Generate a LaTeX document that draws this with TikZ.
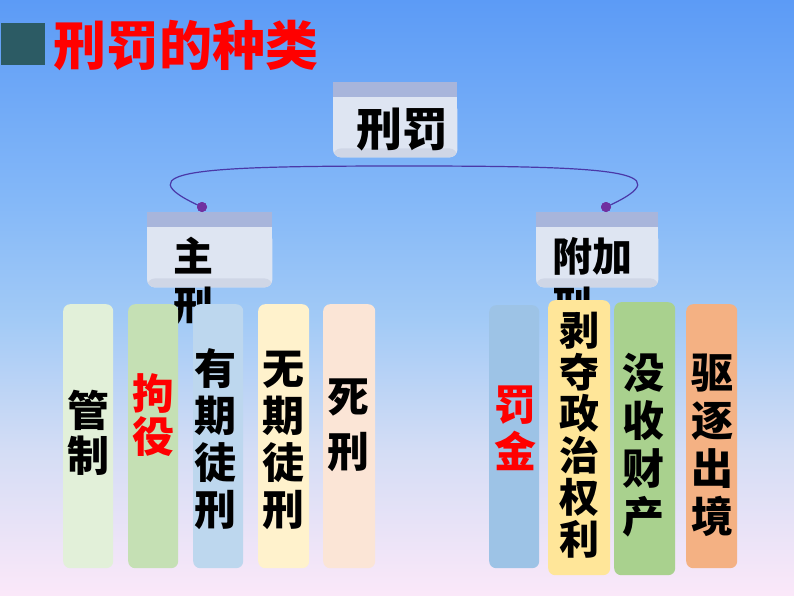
\documentclass[tikz,border=0pt]{standalone}
\usepackage{fontspec}
\newfontfamily\cjk{Noto Sans CJK SC}
\definecolor{bgtop}{HTML}{5C9BF6}
\definecolor{bgb}{HTML}{84B8F8}
\definecolor{bgc}{HTML}{A2CAF6}
\definecolor{bgd}{HTML}{D4DDF5}
\definecolor{bgbot}{HTML}{FBE8F9}
\definecolor{sqcol}{HTML}{2C5B64}
\definecolor{hbarcol}{HTML}{A8B5DB}
\definecolor{hbodycol}{HTML}{DEE5F2}
\definecolor{hbotcol}{HTML}{CFD6E6}
\definecolor{conncol}{HTML}{4A38A8}
\definecolor{dotcol}{HTML}{7030A0}
\definecolor{cA}{HTML}{E2F0D9}
\definecolor{cB}{HTML}{C5E0B4}
\definecolor{cC}{HTML}{BDD7EE}
\definecolor{cD}{HTML}{FFF2CC}
\definecolor{cE}{HTML}{FBE5D6}
\definecolor{cF}{HTML}{9DC3E6}
\definecolor{cG}{HTML}{FFE699}
\definecolor{cH}{HTML}{A9D18E}
\definecolor{cI}{HTML}{F4B183}
\pgfdeclareverticalshading{bgshade}{100bp}{color(0bp)=(bgbot); color(25bp)=(bgbot); color(37.2bp)=(bgd); color(48.2bp)=(bgc); color(58.2bp)=(bgb); color(75bp)=(bgtop); color(100bp)=(bgtop)}
\tikzset{
  hdrbox/.style={inner sep=0, anchor=north west, minimum height=75},
  hdrfill/.style={fill=hbodycol, rounded corners=8,
    path picture={\fill[hbotcol] ([yshift=9pt]path picture bounding box.south west) rectangle (path picture bounding box.south east);}},
  hdrtxt/.style={font=\cjk\bfseries\fontsize{40}{49}\selectfont, align=left, inner sep=0, anchor=north west, text=black},
  lbox/.style={rounded corners=7, inner sep=0, anchor=north west, minimum width=50, minimum height=264},
  vtxt/.style={font=\cjk\bfseries\fontsize{42}{#1}\selectfont, align=center, inner sep=0},
  condot/.style={circle, fill=dotcol, inner sep=0, minimum size=10},
  conn/.style={draw=conncol, line width=1.2pt}
}
\newcommand\mkheader[1]{%
  \fill[hdrfill] ([yshift=-20pt]#1.north west) rectangle (#1.south east);
  \fill[hbodycol] (#1.north west) rectangle ([yshift=-30pt]#1.north east);
  \fill[hbarcol] (#1.north west) rectangle ([yshift=-15pt]#1.north east);
}
\begin{document}
\begin{tikzpicture}[x=1pt,y=-1pt]
\useasboundingbox (0,0) rectangle (794,596);
\shade[shading=bgshade] (0,0) rectangle (794,596);
% title
\node[fill=sqcol, inner sep=0, minimum width=44, minimum height=42, anchor=north west] (sq) at (1,23) {};
\node[font=\cjk\bfseries\fontsize{53}{58}\selectfont, text=red, inner sep=0, anchor=west] (title) at (53,45) {刑罚的种类};
% top box
\node[hdrbox, minimum width=124] (xf) at (333,82) {};
\mkheader{xf}
\node[font=\cjk\bfseries\fontsize{46}{50}\selectfont, inner sep=0] (xftxt) at (402,130) {刑罚};
% level-2 boxes
\node[hdrbox, minimum width=125] (zx) at (147,212) {};
\mkheader{zx}
\node[hdrtxt] (zxtxt) at (173,237) {主\\刑};
\node[hdrbox, minimum width=122] (fjx) at (536,212) {};
\mkheader{fjx}
\node[hdrtxt] (fjxtxt) at (552,237) {附加\\刑};
% connector
\node[condot] (dl) at (202,207) {};
\node[condot] (dr) at (606,207) {};
\coordinate (ctop) at (404,166);
\draw[conn] (dl.center) .. controls (120,170) and (200,166) .. (ctop) .. controls (608,166) and (688,170) .. (dr.center);
\node[condot] at (dl.center) {};
\node[condot] at (dr.center) {};
% lower boxes, left
\node[lbox, fill=cA] (gz) at (63,304) {};
\node[vtxt=45] at (88,433) {管\\制};
\node[lbox, fill=cB] (jy) at (128,304) {};
\node[vtxt=43, text=red] at (153,415) {拘\\役};
\node[lbox, fill=cC] (yq) at (193,304) {};
\node[vtxt=47] at (215,439) {有\\期\\徒\\刑};
\node[lbox, fill=cD, minimum width=51] (wq) at (258,304) {};
\node[vtxt=47] at (283,440) {无\\期\\徒\\刑};
\node[lbox, fill=cE, minimum width=52] (sx) at (323,304) {};
\node[vtxt=55] at (348,425) {死\\刑};
% lower boxes, right
\node[lbox, fill=cF, minimum height=263] (fj) at (489,305) {};
\node[vtxt=47, text=red] at (515,428) {罚\\金};
\node[lbox, fill=cG, minimum width=62, minimum height=275] (bd) at (548,300) {};
\node[font=\cjk\bfseries\fontsize{40}{41.7}\selectfont, align=center, inner sep=0] at (579,435) {剥\\夺\\政\\治\\权\\利};
\node[lbox, fill=cH, minimum width=61, minimum height=273] (ms) at (614,302) {};
\node[vtxt=48] at (643,445) {没\\收\\财\\产};
\node[lbox, fill=cI, minimum width=51] (qz) at (686,304) {};
\node[vtxt=48] at (712,445) {驱\\逐\\出\\境};
\end{tikzpicture}
\end{document}
